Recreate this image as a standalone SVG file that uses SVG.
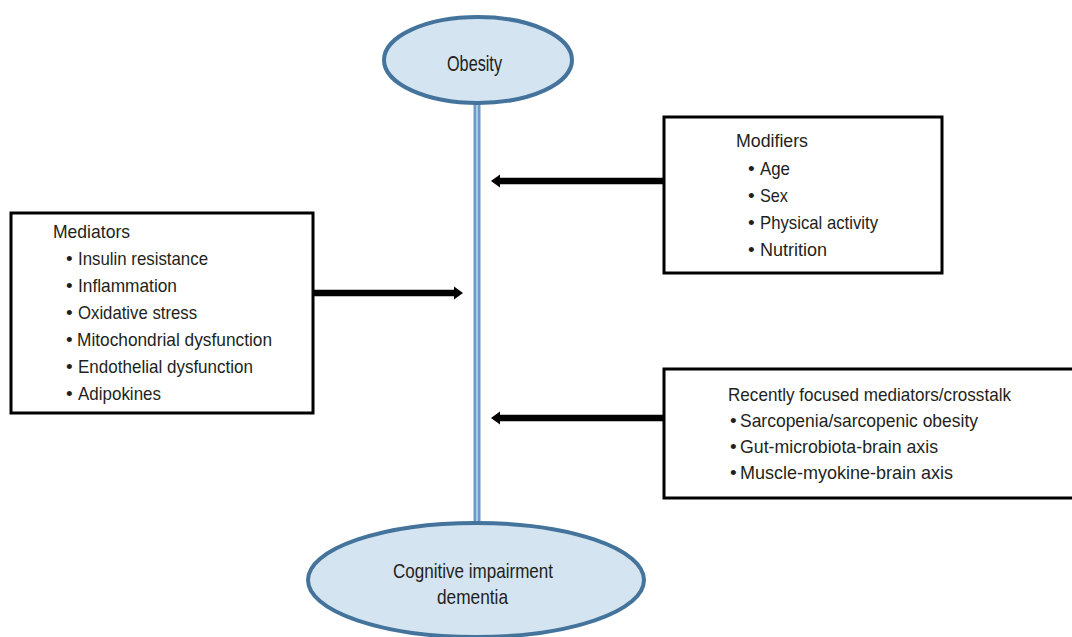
<svg xmlns="http://www.w3.org/2000/svg" width="1072" height="637" viewBox="0 0 1072 637">
<style>
.t{font-family:"Liberation Sans",Arial,sans-serif;font-size:19px;fill:#231f20}
.tb{font-family:"Liberation Sans",Arial,sans-serif;font-size:21px;fill:#231f20}
.box{fill:#ffffff;stroke:#000000;stroke-width:3}
.ell{fill:#d5e4f1;stroke:#44739c;stroke-width:4}
.arrow{stroke:#000000;stroke-width:6.5;fill:none}
</style>
<defs>
<marker id="ah" markerUnits="userSpaceOnUse" markerWidth="10" markerHeight="14" refX="0" refY="7" orient="auto">
<path d="M0,0.5 L9,7 L0,13.5 z" fill="#000000"/>
</marker>
</defs>
<rect width="1072" height="637" fill="#ffffff"/>
<g id="connectors">
<line x1="477" y1="104" x2="477" y2="523" stroke="#6a9ccb" stroke-width="7"/>
<line x1="477" y1="104" x2="477" y2="523" stroke="#a8cbe6" stroke-width="2"/>
<line class="arrow" x1="313" y1="293" x2="454" y2="293" marker-end="url(#ah)"/>
<line class="arrow" x1="664" y1="181" x2="500" y2="181" marker-end="url(#ah)"/>
<line class="arrow" x1="664" y1="418" x2="500" y2="418" marker-end="url(#ah)"/>
</g>
<g id="obesity">
<ellipse class="ell" cx="478" cy="60" rx="94" ry="43"/>
<text class="tb" x="447" y="71" textLength="55" lengthAdjust="spacingAndGlyphs" style="font-size:22px">Obesity</text>
</g>
<g id="cognitive">
<ellipse class="ell" cx="476" cy="580" rx="168" ry="57"/>
<text class="tb" x="393" y="578" textLength="160" lengthAdjust="spacingAndGlyphs">Cognitive impairment</text>
<text class="tb" x="437" y="604" textLength="71" lengthAdjust="spacingAndGlyphs">dementia</text>
</g>
<g id="mediators">
<rect class="box" x="11" y="213" width="302" height="200"/>
<text class="t" x="53" y="238" textLength="77" lengthAdjust="spacingAndGlyphs">Mediators</text>
<text class="t" x="66" y="265">•</text>
<text class="t" x="78" y="265" textLength="130" lengthAdjust="spacingAndGlyphs">Insulin resistance</text>
<text class="t" x="66" y="292">•</text>
<text class="t" x="78" y="292" textLength="99" lengthAdjust="spacingAndGlyphs">Inflammation</text>
<text class="t" x="66" y="319">•</text>
<text class="t" x="78" y="319" textLength="119" lengthAdjust="spacingAndGlyphs">Oxidative stress</text>
<text class="t" x="66" y="346">•</text>
<text class="t" x="77" y="346" textLength="195" lengthAdjust="spacingAndGlyphs">Mitochondrial dysfunction</text>
<text class="t" x="66" y="373">•</text>
<text class="t" x="78" y="373" textLength="175" lengthAdjust="spacingAndGlyphs">Endothelial dysfunction</text>
<text class="t" x="66" y="400">•</text>
<text class="t" x="78" y="400" textLength="83" lengthAdjust="spacingAndGlyphs">Adipokines</text>
</g>
<g id="modifiers">
<rect class="box" x="664" y="117" width="278" height="156"/>
<text class="t" x="736" y="147" textLength="72" lengthAdjust="spacingAndGlyphs">Modifiers</text>
<text class="t" x="748" y="175">•</text>
<text class="t" x="760" y="175" textLength="30" lengthAdjust="spacingAndGlyphs">Age</text>
<text class="t" x="748" y="202">•</text>
<text class="t" x="760" y="202" textLength="28" lengthAdjust="spacingAndGlyphs">Sex</text>
<text class="t" x="748" y="229">•</text>
<text class="t" x="760" y="229" textLength="118" lengthAdjust="spacingAndGlyphs">Physical activity</text>
<text class="t" x="748" y="256">•</text>
<text class="t" x="760" y="256" textLength="67" lengthAdjust="spacingAndGlyphs">Nutrition</text>
</g>
<g id="recent">
<rect class="box" x="664" y="369" width="414" height="129"/>
<text class="t" x="728" y="401" textLength="283" lengthAdjust="spacingAndGlyphs">Recently focused mediators/crosstalk</text>
<text class="t" x="730" y="427">•</text>
<text class="t" x="740" y="427" textLength="238" lengthAdjust="spacingAndGlyphs">Sarcopenia/sarcopenic obesity</text>
<text class="t" x="730" y="453">•</text>
<text class="t" x="740" y="453" textLength="198" lengthAdjust="spacingAndGlyphs">Gut-microbiota-brain axis</text>
<text class="t" x="730" y="479">•</text>
<text class="t" x="740" y="479" textLength="213" lengthAdjust="spacingAndGlyphs">Muscle-myokine-brain axis</text>
</g>
</svg>
